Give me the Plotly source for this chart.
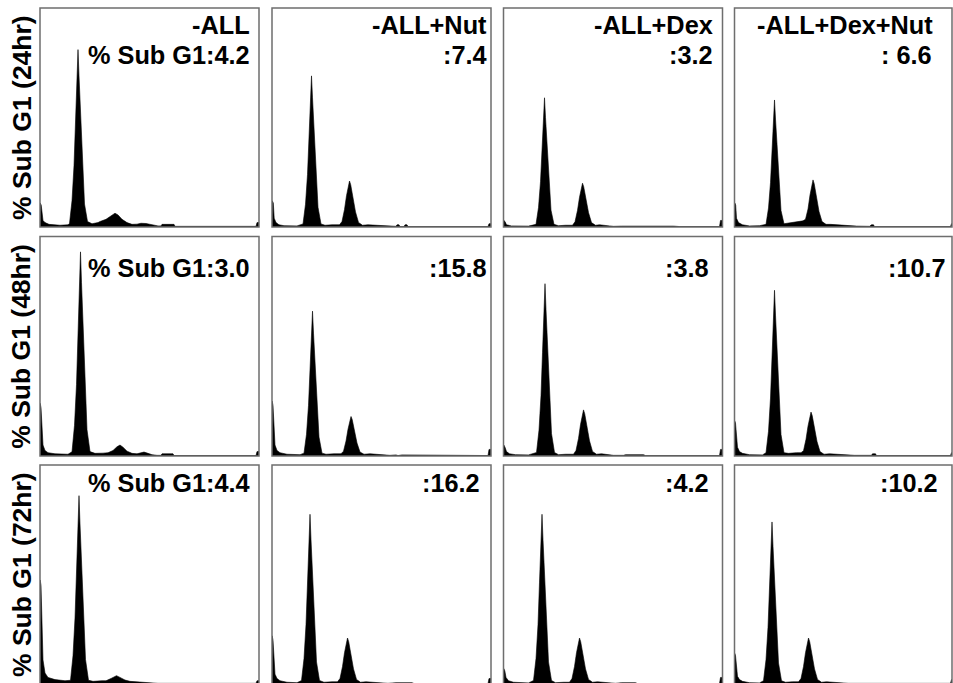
import plotly.graph_objects as go

# ---------------- data (channel vs. relative count, % of panel height) ----------------
ROW_LABELS = ["% Sub G1 (24hr)", "% Sub G1 (48hr)", "% Sub G1 (72hr)"]
COL_TITLES = ["-ALL", "-ALL+Nut", "-ALL+Dex", "-ALL+Dex+Nut"]
SUBG1_TEXT = [
    ["% Sub G1:4.2", ":7.4", ":3.2", ": 6.6"],
    ["% Sub G1:3.0", ":15.8", ":3.8", ":10.7"],
    ["% Sub G1:4.4", ":16.2", ":4.2", ":10.2"],
]

R1C1_CH = [0, 0.2, 1.2, 2, 3, 5, 9, 20, 28, 29.5, 32, 34, 35.5, 37, 38, 39, 40.8, 42.5, 44.5, 47.5,
           52, 58, 60, 66, 71, 75, 78, 82, 87, 92, 97, 101, 106, 110, 114, 118, 121, 122, 134, 135,
           180, 216, 217, 219, 219]
R1C1_CT = [0, 11, 10, 5, 3, 2, 1.2, 0.8, 1, 1.6, 12, 28, 49, 71, 81, 69, 49, 27, 10.5, 2.5,
           1.5, 2, 2.5, 3.5, 5, 6.3, 5.5, 3.5, 2, 1.2, 1.3, 1.7, 1.6, 1.2, 0.8, 0.5, 0.5, 1.2, 1.2, 0.3,
           0.3, 0.3, 2, 2, 0]

R1C2_CH = [0, 0.2, 1.3, 2.2, 4, 7, 12, 25, 31, 33.5, 35.5, 37, 38.5, 39.5, 40.5, 42.3, 44, 46, 49,
           53, 60, 67.5, 70, 72.5, 74.5, 76.5, 77.5, 78.7, 81, 83.5, 86.5, 90.5,
           96, 104, 110, 118, 124, 125, 127, 128, 132, 133, 135, 136, 216, 217, 219, 219]
R1C2_CT = [0, 12, 11, 4, 2, 1, 0.6, 0.5, 1.4, 10.4, 24, 41, 61, 69, 59, 41, 23, 9, 1.4,
           0.8, 1, 1.0, 2.5, 8, 14.3, 19.5, 21, 19.3, 13.7, 6.9, 2.1, 0.8,
           1, 0.8, 0.5, 0.3, 0.3, 1, 1, 0.2, 0.2, 1, 1, 0.2, 0.2, 1.5, 1.5, 0]

R1C3_CH = [0, 0.3, 1.5, 3, 8, 25, 32.5, 35, 37, 38.5, 40, 41, 42, 43.8, 45.5, 47.5, 50.5,
           55, 62, 69, 71.5, 74, 76, 78, 79, 80.2, 82.5, 85, 88, 92,
           96, 100, 106, 110, 118, 170, 176, 216, 217, 218.5, 219]
R1C3_CT = [0, 3, 2.5, 1, 0.5, 0.4, 1.2, 8.9, 20.7, 35.4, 52, 59, 50, 35.4, 19.5, 7.7, 1.2,
           0.6, 0.8, 0.8, 2.4, 7.6, 13.6, 18.6, 20, 18.4, 13, 6.6, 2, 0.8,
           1, 0.9, 0.5, 0.3, 0.4, 0.4, 0.2, 0.2, 3, 3, 0]

R1C4_CH = [0, 0.3, 1.2, 2, 4, 8, 15, 25, 31.5, 34, 36, 37.5, 39, 40, 41, 42.8, 44.5, 46.5, 49.5,
           54, 60, 65, 68.5, 71, 73.5, 75.5, 77.5, 78.5, 79.7, 82, 84.5, 87.5, 91.5,
           96, 104, 108, 115, 122, 135, 137, 139, 140, 216, 217, 219, 219]
R1C4_CT = [0, 11, 10, 4, 2, 1, 0.5, 0.6, 1.2, 8.7, 20.3, 34.8, 51, 58, 49.3, 34.8, 19, 7.5, 1.5,
           1.8, 2.2, 2.5, 2.8, 3.5, 8.2, 14.6, 20, 21.5, 19.8, 14, 7.1, 2.5, 1.2,
           1.2, 1, 0.6, 0.4, 0.4, 0.3, 1, 1, 0.2, 0.2, 1.5, 1.5, 0]

R2C1_CH = [0, 0.2, 1, 2, 3, 5, 8, 15, 28, 32, 34.5, 36.5, 38, 39.5, 40.5, 41.5, 43.3, 45, 47, 50,
           55, 63, 68, 73, 77, 80, 83, 87, 92,
           97, 101, 104, 108, 112, 117, 121, 122, 133, 134, 216, 217, 219, 219]
R2C1_CT = [0, 24, 22, 10, 5, 2.5, 1.5, 1, 0.8, 1.9, 14, 32.6, 55.8, 81.8, 93, 79, 55.8, 30.7, 12, 2,
           1.2, 1.3, 1.5, 2.5, 4.2, 5, 4, 2.2, 1.2,
           1, 1.5, 1.8, 1.2, 0.6, 0.3, 0.3, 1, 1, 0.2, 0.2, 2, 2, 0]

R2C2_CH = [0, 0.2, 1, 2, 3, 5, 8, 15, 28, 32, 34.5, 36.5, 38, 39.5, 40.5, 41.5, 43.3, 45, 47, 50,
           54, 62, 69, 71.5, 74, 76, 78, 79, 80.2, 82.5, 85, 88, 92,
           98, 104, 110, 118, 124, 126, 130, 150, 152, 216, 217, 219, 219]
R2C2_CT = [0, 25, 23, 10, 5, 2.5, 1.5, 0.8, 0.6, 1.3, 9.9, 23.1, 39.6, 58, 66, 56, 39.6, 21.8, 8.6, 1.3,
           0.8, 1, 1, 2.2, 6.8, 12.2, 16.7, 18, 16.6, 11.7, 5.9, 1.8, 0.8,
           1, 0.8, 0.5, 0.3, 0.5, 0.2, 0.5, 0.5, 0.2, 0.2, 3, 3, 0]

R2C3_CH = [0, 0.3, 1.5, 3, 6, 12, 25, 33, 35.5, 37.5, 39, 40.5, 41.5, 42.5, 44.3, 46, 48, 51,
           55, 62, 70, 72.5, 75, 77, 79, 80, 81.2, 83.5, 86, 89, 93,
           98, 104, 110, 120, 122, 140, 142, 216, 217, 219, 219]
R2C3_CT = [0, 5, 4, 2, 1, 0.6, 0.5, 1.6, 11.8, 27.5, 47.1, 69.1, 78.5, 66.7, 47.1, 25.9, 10.2, 1.6,
           0.6, 0.8, 0.8, 2.5, 8, 14.3, 19.5, 21, 19.3, 13.7, 6.9, 2.1, 0.8,
           1, 0.6, 0.3, 0.3, 0.6, 0.6, 0.2, 0.2, 3, 3, 0]

R2C4_CH = [0, 0.2, 1, 2, 3, 5, 8, 15, 28, 31.5, 34, 36, 37.5, 39, 40, 41, 42.8, 44.5, 46.5, 49.5,
           54, 62, 66.5, 69, 71.5, 73.5, 75.5, 76.5, 77.7, 80, 82.5, 85.5, 89.5,
           95, 103, 112, 120, 137, 138, 141, 142, 216, 217, 219, 219]
R2C4_CT = [0, 16, 15, 7, 4, 2, 1.2, 0.6, 0.5, 1.5, 11.3, 26.4, 45.3, 66.4, 75.5, 64.2, 45.3, 24.9, 9.8, 1.5,
           1.2, 1.5, 1.5, 2.4, 7.6, 13.6, 18.6, 20, 18.4, 13, 6.6, 2, 0.8,
           1, 0.8, 0.5, 0.3, 0.3, 1, 1, 0.2, 0.2, 1.5, 1.5, 0]

R3C1_CH = [0, 0.2, 1, 2, 3, 5, 8, 15, 25, 30.5, 33, 35, 36.5, 38, 39, 40, 41.8, 43.5, 45.5, 48.5,
           53, 62, 66, 71, 76.5, 80, 85, 90,
           96, 104, 112, 118, 130, 216, 217, 219, 219]
R3C1_CT = [0, 47.5, 45, 25, 11, 5, 3, 2, 1.5, 1.7, 12.9, 30.1, 51.6, 75.7, 86, 73.1, 51.6, 28.4, 11.2, 1.7,
           1.2, 1.5, 1.5, 2.5, 3.8, 3, 1.8, 1.2,
           1, 0.8, 0.5, 0.3, 0.3, 0.3, 1.5, 1.5, 0]

R3C2_CH = [0, 0.2, 1, 2, 3, 5, 8, 15, 25, 29.5, 32, 34, 35.5, 37, 38, 39, 40.8, 42.5, 44.5, 47.5,
           52, 60, 65.5, 68, 70.5, 72.5, 74.5, 75.5, 76.7, 79, 81.5, 84.5, 88.5,
           94, 102, 108, 116, 124, 140, 142, 216, 217, 219, 219]
R3C2_CT = [0, 22, 20, 9, 4.5, 2.5, 1.5, 0.8, 0.6, 1.6, 11.6, 27.1, 46.5, 68.2, 77.5, 65.9, 46.5, 25.6, 10.1, 1.6,
           0.8, 1, 1, 2.5, 8, 14.3, 19.5, 21, 19.3, 13.7, 6.9, 2.1, 0.8,
           1, 0.8, 0.5, 0.3, 0.6, 0.6, 0.2, 0.2, 2.5, 2.5, 0]

R3C3_CH = [0, 0.3, 1.3, 2.5, 5, 10, 25, 30, 32.5, 34.5, 36, 37.5, 38.5, 39.5, 41.3, 43, 45, 48,
           52, 60, 66, 68.5, 71, 73, 75, 76, 77.2, 79.5, 82, 85, 89,
           94, 100, 106, 112, 118, 132, 134, 216, 217, 219, 219]
R3C3_CT = [0, 7, 6, 3, 1.5, 0.8, 0.5, 1.6, 11.6, 27.1, 46.5, 68.2, 77.5, 65.9, 46.5, 25.6, 10.1, 1.6,
           0.6, 0.8, 0.8, 2.5, 8, 14.3, 19.5, 21, 19.3, 13.7, 6.9, 2.1, 0.8,
           1, 0.8, 0.4, 0.3, 0.6, 0.6, 0.2, 0.2, 3, 3, 0]

R3C4_CH = [0, 0.2, 1, 2, 3, 5, 8, 15, 25, 29, 31.5, 33.5, 35, 36.5, 37.5, 38.5, 40.3, 42, 44, 47,
           51, 58, 64, 66.5, 69, 71, 73, 74, 75.2, 77.5, 80, 83, 87,
           92, 100, 106, 114, 216, 217, 219, 219]
R3C4_CT = [0, 14, 13, 6, 3.5, 2, 1.2, 0.6, 0.5, 1.5, 11.1, 25.9, 44.4, 65.1, 74, 62.9, 44.4, 24.4, 9.6, 1.5,
           0.8, 1, 1, 2.5, 8, 14.3, 19.5, 21, 19.3, 13.7, 6.9, 2.1, 0.8,
           1, 0.8, 0.4, 0.3, 0.3, 2, 2, 0]

PANELS = [
    [(R1C1_CH, R1C1_CT), (R1C2_CH, R1C2_CT), (R1C3_CH, R1C3_CT), (R1C4_CH, R1C4_CT)],
    [(R2C1_CH, R2C1_CT), (R2C2_CH, R2C2_CT), (R2C3_CH, R2C3_CT), (R2C4_CH, R2C4_CT)],
    [(R3C1_CH, R3C1_CT), (R3C2_CH, R3C2_CT), (R3C3_CH, R3C3_CT), (R3C4_CH, R3C4_CT)],
]

# ---------------- layout geometry (pixels) ----------------
W, H = 953, 683
COL_PX = [(40, 259), (272, 491), (503.5, 722.5), (734.5, 952)]
ROW_PX = [(8, 227), (236.5, 456), (465, 684)]
TITLE_RIGHT = [251, 488, 714, 934]
VALUE_RIGHT = [
    [251, 488, 714, 933],
    [251, 488, 710, 947],
    [251, 481, 710, 939],
]
TITLE_Y = 25
VALUE_Y = [54.5, 268, 483.5]
FONT = "Liberation Sans, Arial, sans-serif"
FS = 25.3
LABEL_FS = 26.5


def px(x):
    return x / W


def py(y):
    return 1 - y / H


fig = go.Figure()
layout = dict(
    width=W, height=H, autosize=False,
    margin=dict(l=0, r=0, t=0, b=0, pad=0),
    paper_bgcolor="white", plot_bgcolor="rgba(0,0,0,0)",
    showlegend=False,
)
shapes = []
annotations = []

for r in range(3):
    top, bot = ROW_PX[r]
    for c in range(4):
        left, right = COL_PX[c]
        k = r * 4 + c + 1
        xs, ys = PANELS[r][c]
        assert len(xs) == len(ys)
        xa = "x" if k == 1 else f"x{k}"
        ya = "y" if k == 1 else f"y{k}"
        fig.add_trace(go.Scatter(
            x=xs, y=ys, xaxis=xa, yaxis=ya, mode="lines",
            line=dict(color="black", width=0.6), fill="tozeroy",
            fillcolor="black", hoverinfo="skip",
        ))
        ydom0 = max(0.0, py(bot))
        yr0 = 0.0
        if bot > H:
            yr0 = (bot - H) / (bot - top) * 100
        layout[f"xaxis{k}"] = dict(domain=[px(left), px(right)], range=[0, right - left],
                                   visible=False, fixedrange=True)
        layout[f"yaxis{k}"] = dict(domain=[ydom0, py(top)], range=[yr0, 100],
                                   visible=False, fixedrange=True)
        shapes.append(dict(type="rect", xref="paper", yref="paper",
                           x0=px(left), x1=px(right), y0=py(bot), y1=py(top),
                           line=dict(color="#6e6e6e", width=1.5), layer="above"))
        annotations.append(dict(
            xref="paper", yref="paper", x=px(VALUE_RIGHT[r][c]), y=py(VALUE_Y[r]),
            xanchor="right", yanchor="middle", showarrow=False,
            text=f"<b>{SUBG1_TEXT[r][c]}</b>", font=dict(family=FONT, size=FS, color="black"),
            borderpad=0,
        ))
    annotations.append(dict(
        xref="paper", yref="paper", x=px(21.5), y=py((top + bot) / 2),
        xanchor="center", yanchor="middle", showarrow=False, textangle=-90,
        text=f"<b>{ROW_LABELS[r]}</b>", font=dict(family=FONT, size=LABEL_FS, color="black"),
        borderpad=0,
    ))

for c in range(4):
    annotations.append(dict(
        xref="paper", yref="paper", x=px(TITLE_RIGHT[c]), y=py(TITLE_Y),
        xanchor="right", yanchor="middle", showarrow=False,
        text=f"<b>{COL_TITLES[c]}</b>", font=dict(family=FONT, size=FS, color="black"),
        borderpad=0,
    ))

layout["shapes"] = shapes
layout["annotations"] = annotations
fig.update_layout(**layout)
fig.write_html(
    "out.html",
    config={"displayModeBar": False, "staticPlot": True},
    post_script="document.body.style.margin='0px';document.body.style.padding='0px';"
                "document.body.style.overflow='hidden';",
)
